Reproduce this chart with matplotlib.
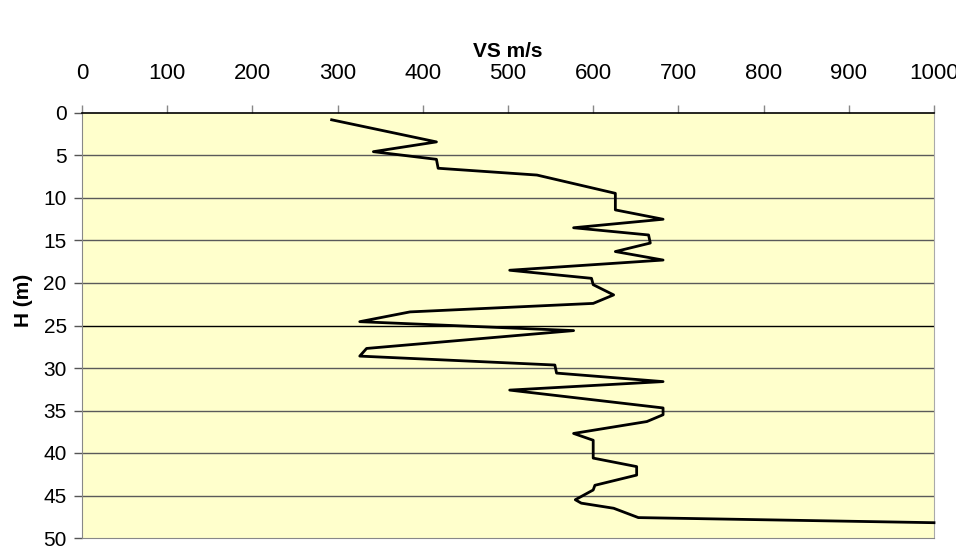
import matplotlib
matplotlib.use("Agg")
import matplotlib.pyplot as plt

# shear-wave velocity profile
depth_m = [0.8, 3.4, 4.55, 5.45, 6.5, 7.3, 9.45, 11.4, 12.5, 13.5, 14.35, 15.3,
           16.3, 17.3, 18.5, 19.45, 20.2, 21.4, 22.4, 23.4, 24.55, 25.6, 27.7,
           28.6, 29.65, 30.6, 31.6, 32.6, 34.7, 35.5, 36.3, 37.7, 38.5, 40.6,
           41.6, 42.6, 43.8, 44.35, 45.5, 45.9, 46.5, 47.6, 48.2]
vs_ms = [293, 416, 342, 416, 418, 534, 626, 626, 682, 577, 665, 667,
         626, 682, 502, 598, 600, 624, 600, 385, 326, 577, 334,
         326, 555, 557, 682, 502, 682, 682, 663, 577, 600, 600,
         651, 651, 602, 600, 579, 586, 624, 653, 1000]

x_ticks = list(range(0, 1001, 100))
y_ticks = list(range(0, 51, 5))

plt.rcParams['font.family'] = ['Liberation Sans', 'DejaVu Sans']

fig = plt.figure(figsize=(9.56, 5.48), dpi=100)
ax = fig.add_axes([82 / 956, 1 - 538 / 548, (934 - 82) / 956, (538 - 113) / 548])
ax.set_facecolor('#ffffcc')

# horizontal grid lines every 5 m
for y in y_ticks[1:-1]:
    ax.axhline(y, color='black' if y == 25 else '#5a5a5a', lw=1.0, zorder=1)

ax.plot(vs_ms, depth_m, color='black', lw=2.0, zorder=3, clip_on=False)

ax.set_xlim(0, 1000)
ax.set_ylim(50, 0)
ax.xaxis.tick_top()
ax.xaxis.set_label_position('top')
ax.set_xticks(x_ticks)
ax.set_yticks(y_ticks)
ax.tick_params(axis='x', direction='out', length=6, width=1, color='#888888',
               labelsize=16, pad=15)
ax.tick_params(axis='y', direction='out', length=6, width=1, color='#555555',
               labelsize=15, pad=5)

ax.spines['top'].set_color('black')
ax.spines['top'].set_linewidth(1.2)
ax.spines['left'].set_color('#888888')
ax.spines['right'].set_color('#aaaaaa')
ax.spines['bottom'].set_color('#888888')

ax.set_xlabel('VS m/s', fontsize=15, fontweight='bold')
ax.xaxis.set_label_coords(0.5, 1.132)
ax.set_ylabel('H (m)', fontsize=15, fontweight='bold')
ax.yaxis.set_label_coords(-0.058, 0.56)

fig.savefig('out.png', dpi=100)
